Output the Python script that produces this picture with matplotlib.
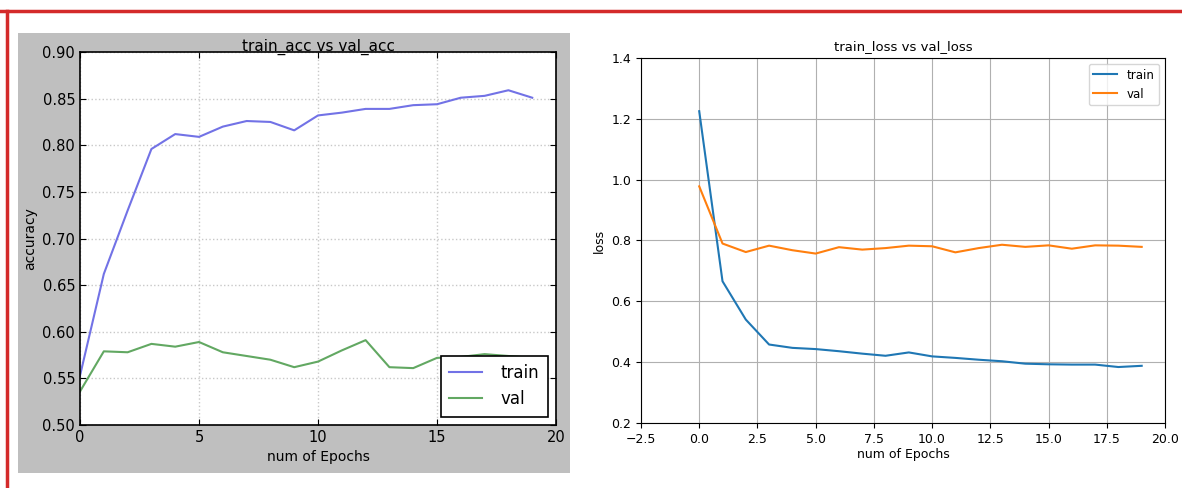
import matplotlib
matplotlib.use("Agg")
import matplotlib.pyplot as plt
from matplotlib.patches import Rectangle
from matplotlib.lines import Line2D

# valores
epochs = list(range(20))
train_acc = [0.553, 0.662, 0.730, 0.796, 0.812, 0.809, 0.820, 0.826, 0.825, 0.816,
             0.832, 0.835, 0.839, 0.839, 0.843, 0.844, 0.851, 0.853, 0.859, 0.851]
val_acc = [0.536, 0.579, 0.578, 0.587, 0.584, 0.589, 0.578, 0.574, 0.570, 0.562,
           0.568, 0.580, 0.591, 0.562, 0.561, 0.572, 0.573, 0.576, 0.574, 0.572]
train_loss = [1.225, 0.666, 0.540, 0.458, 0.447, 0.443, 0.436, 0.428, 0.421, 0.432,
              0.419, 0.414, 0.408, 0.403, 0.395, 0.393, 0.392, 0.392, 0.384, 0.388]
val_loss = [0.978, 0.790, 0.762, 0.783, 0.768, 0.757, 0.778, 0.770, 0.775, 0.783,
            0.781, 0.761, 0.775, 0.786, 0.779, 0.784, 0.773, 0.784, 0.783, 0.779]

acc_ticks = [0.50, 0.55, 0.60, 0.65, 0.70, 0.75, 0.80, 0.85, 0.90]
loss_ticks = [0.2, 0.4, 0.6, 0.8, 1.0, 1.2, 1.4]
loss_xticks = [-2.5, 0.0, 2.5, 5.0, 7.5, 10.0, 12.5, 15.0, 17.5, 20.0]

fig = plt.figure(figsize=(11.82, 4.88), dpi=100, facecolor='white')

# fondo gris del primer grafico (estilo clasico), detras de los ejes
fig.patches.append(Rectangle((0.0152, 0.0307), 0.467, 0.9016, transform=fig.transFigure,
                             facecolor='#bfbfbf', edgecolor='none', zorder=-10))
# marco rojo de la captura
fig.lines.append(Line2D([0.0, 1.0], [0.977, 0.977], transform=fig.transFigure,
                        color='#d42a2a', linewidth=2.5))
fig.lines.append(Line2D([0.0055, 0.0055], [0.0, 0.977], transform=fig.transFigure,
                        color='#d42a2a', linewidth=2.5))

# --- accuracy ---
ax1 = fig.add_axes([0.0677, 0.1291, 0.4027, 0.7643])
ax1.set_zorder(5)
ax1.plot(epochs, train_acc, color='#7272e6', linewidth=1.5, label='train')
ax1.plot(epochs, val_acc, color='#62a862', linewidth=1.5, label='val')
ax1.set_xlim(0, 20)
ax1.set_ylim(0.50, 0.90)
ax1.set_yticks(acc_ticks)
ax1.set_yticklabels(['%.2f' % t for t in acc_ticks])
ax1.set_xticks([0, 5, 10, 15, 20])
ax1.tick_params(direction='in', top=True, right=True, labelsize=10.5, length=4)
ax1.grid(True, linestyle=':', color='#c8c8c8', linewidth=1.0)
for s in ax1.spines.values():
    s.set_linewidth(1.2)
ax1.set_title('train_acc vs val_acc', fontsize=11, pad=1)
ax1.set_xlabel('num of Epochs', fontsize=10)
ax1.set_ylabel('accuracy', fontsize=10, labelpad=4)
leg1 = ax1.legend(loc='lower right', fontsize=12, fancybox=False, framealpha=1,
                  borderpad=0.5, handlelength=2.0, handletextpad=1.1)
leg1.get_frame().set_edgecolor('black')
leg1.get_frame().set_linewidth(1.2)

# --- loss ---
ax2 = fig.add_axes([0.5423, 0.1332, 0.4433, 0.748])
ax2.plot(epochs, train_loss, color='#1f77b4', linewidth=1.5, label='train')
ax2.plot(epochs, val_loss, color='#ff7f0e', linewidth=1.5, label='val')
ax2.set_xlim(-2.5, 20.0)
ax2.set_ylim(0.2, 1.4)
ax2.set_xticks(loss_xticks)
ax2.set_yticks(loss_ticks)
ax2.tick_params(labelsize=9)
ax2.grid(True, color='#b0b0b0', linewidth=0.8)
ax2.set_title('train_loss vs val_loss', fontsize=9.5)
ax2.set_xlabel('num of Epochs', fontsize=9, labelpad=2)
ax2.set_ylabel('loss', fontsize=9)
ax2.legend(loc='upper right', fontsize=8.5)

fig.savefig('out.png', dpi=100, facecolor=fig.get_facecolor())
